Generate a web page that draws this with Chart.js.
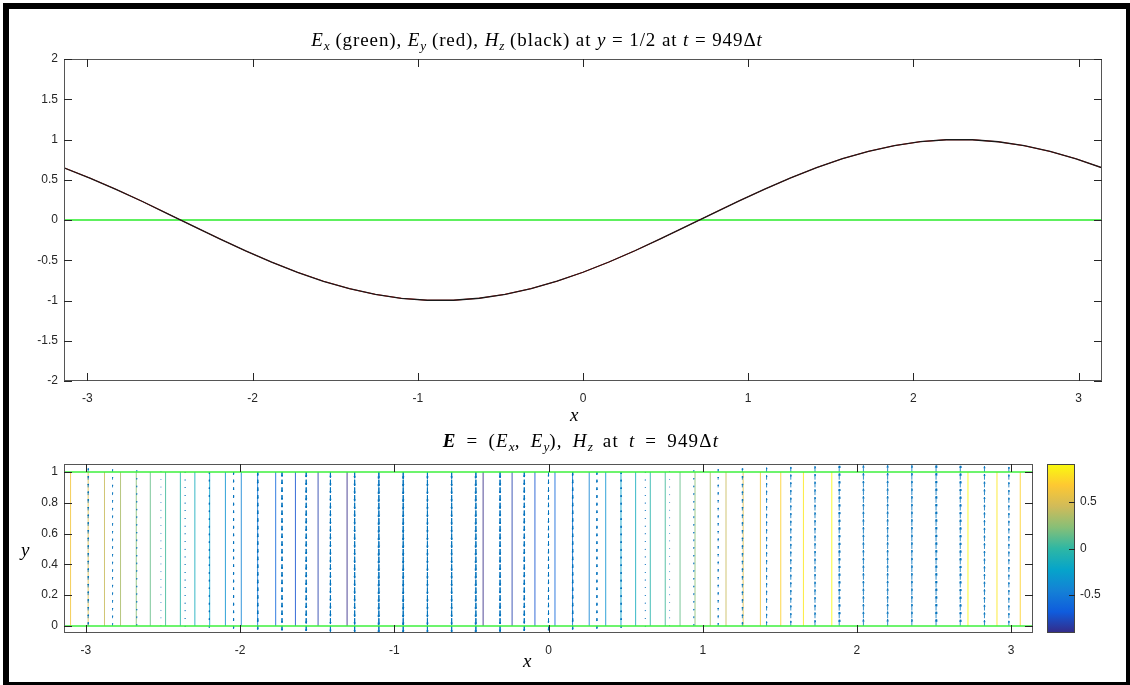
<!DOCTYPE html>
<html>
<head>
<meta charset="utf-8">
<script src="https://cdn.jsdelivr.net/npm/chart.js@4.4.1/dist/chart.umd.min.js"></script>
<style>
  html, body { margin: 0; padding: 0; background: #fff; overflow: hidden; }
  body { width: 1130px; height: 685px; position: relative; }
  #frame { position: absolute; left: 3px; top: 3px; width: 1129px; height: 685px; border: 6px solid #000; box-sizing: border-box; }
  canvas { position: absolute; }
  .tex { position: absolute; font-family: "Liberation Serif", "DejaVu Serif", serif; color: #000; white-space: nowrap; line-height: 20px; }
  .tex sub { font-size: 0.7em; vertical-align: -0.3em; line-height: 0; letter-spacing: 0; }
  .title { font-size: 19px; letter-spacing: 0.9px; transform: translateX(-50%); }
</style>
</head>
<body>
<div id="frame"></div>
<canvas id="chart_fields" width="1130" height="430" style="left:0;top:0"></canvas>
<canvas id="chart_quiver" width="1130" height="235" style="left:0;top:450px"></canvas>
<canvas id="chart_colorbar" width="90" height="235" style="left:1040px;top:450px"></canvas>

<div class="tex title" style="left:537px;top:30px">
  <i>E</i><sub><i>x</i></sub> (green), <i>E</i><sub><i>y</i></sub> (red), <i>H</i><sub><i>z</i></sub> (black) at <i>y</i> = 1/2 at <i>t</i> = 949Δ<i>t</i>
</div>
<div class="tex" style="left:570px;top:405px;font-size:19px"><i>x</i></div>
<div class="tex title" style="left:581px;top:431px;letter-spacing:1.2px;word-spacing:4px">
  <b><i>E</i></b> = (<i>E</i><sub><i>x</i></sub>, <i>E</i><sub><i>y</i></sub>), <i>H</i><sub><i>z</i></sub> at <i>t</i> = 949Δ<i>t</i>
</div>
<div class="tex" style="left:523px;top:651px;font-size:19px"><i>x</i></div>
<div class="tex" style="left:21px;top:540px;font-size:19px"><i>y</i></div>

<script>
// sample points along x (same grid is used for the arrows)
const xGrid = [-3.142, -2.985, -2.827, -2.670, -2.513, -2.356, -2.199, -2.042, -1.885, -1.728,
  -1.571, -1.414, -1.257, -1.100, -0.942, -0.785, -0.628, -0.471, -0.314, -0.157,
  0, 0.157, 0.314, 0.471, 0.628, 0.785, 0.942, 1.100, 1.257, 1.414,
  1.571, 1.728, 1.885, 2.042, 2.199, 2.356, 2.513, 2.670, 2.827, 2.985, 3.142];
const hzValues = [0.649, 0.521, 0.381, 0.233, 0.077, -0.080, -0.234, -0.384, -0.523, -0.650,
  -0.761, -0.853, -0.924, -0.973, -0.997, -0.997, -0.972, -0.923, -0.852, -0.760,
  -0.649, -0.522, -0.382, -0.232, -0.077, 0.080, 0.235, 0.383, 0.523, 0.651,
  0.762, 0.853, 0.924, 0.973, 0.997, 0.997, 0.972, 0.923, 0.852, 0.760, 0.648];
const eyValues = [0.649, 0.521, 0.381, 0.233, 0.077, -0.080, -0.234, -0.384, -0.523, -0.650,
  -0.761, -0.853, -0.924, -0.973, -0.997, -0.997, -0.972, -0.923, -0.852, -0.760,
  -0.649, -0.522, -0.382, -0.232, -0.077, 0.080, 0.235, 0.383, 0.523, 0.651,
  0.762, 0.853, 0.924, 0.973, 0.997, 0.997, 0.972, 0.923, 0.852, 0.760, 0.648];
const exValues = [0, 0, 0, 0, 0, 0, 0, 0, 0, 0, 0, 0, 0, 0, 0, 0, 0, 0, 0, 0,
  0, 0, 0, 0, 0, 0, 0, 0, 0, 0, 0, 0, 0, 0, 0, 0, 0, 0, 0, 0, 0];

// arrow rows in y
const yGrid = [0, 0.05, 0.1, 0.15, 0.2, 0.25, 0.3, 0.35, 0.4, 0.45, 0.5,
  0.55, 0.6, 0.65, 0.7, 0.75, 0.8, 0.85, 0.9, 0.95, 1];
const boundaryY = [0, 1];

// Hz contour lines (vertical): position and level
const contourX = [-3.099, -2.985, -2.879, -2.775, -2.673, -2.582, -2.483, -2.387, -2.293, -2.197,
  -2.095, -1.992, -1.886, -1.769, -1.641, -1.494, -1.306,
  -0.424, -0.236, -0.088, 0.042, 0.156, 0.264, 0.371, 0.470, 0.565, 0.660,
  0.757, 0.853, 0.950, 1.049, 1.151, 1.262, 1.374, 1.506, 1.653, 1.837,
  2.720, 2.908, 3.059];
const contourLevel = [0.619, 0.524, 0.429, 0.333, 0.238, 0.143, 0.048, -0.048, -0.143, -0.238,
  -0.333, -0.429, -0.524, -0.619, -0.714, -0.810, -0.905,
  -0.905, -0.810, -0.714, -0.619, -0.524, -0.429, -0.333, -0.238, -0.143, -0.048,
  0.048, 0.143, 0.238, 0.333, 0.429, 0.524, 0.619, 0.714, 0.810, 0.905,
  0.905, 0.810, 0.714];
const colorLimits = [-0.905, 0.905];

const xTicks = [-3, -2, -1, 0, 1, 2, 3];
const yTicksTop = [-2, -1.5, -1, -0.5, 0, 0.5, 1, 1.5, 2];
const yTicksBottom = [0, 0.2, 0.4, 0.6, 0.8, 1];
const colorTicks = [-0.5, 0, 0.5];

const arrowScale = 0.043;
const tickFont = { family: "'Liberation Sans', Arial, sans-serif", size: 12 };
const tickColor = "#262626";

const parulaStops = ["#352a87", "#0f5cdd", "#1481d6", "#06a4ca", "#2eb7a4",
  "#87bf77", "#d1bb59", "#fec832", "#f9fb0e"];

function hexToRgb(h) {
  return [parseInt(h.slice(1, 3), 16), parseInt(h.slice(3, 5), 16), parseInt(h.slice(5, 7), 16)];
}

function parula(v, alpha) {
  let t = (v - colorLimits[0]) / (colorLimits[1] - colorLimits[0]);
  t = Math.min(1, Math.max(0, t));
  const s = t * (parulaStops.length - 1);
  const i = Math.min(parulaStops.length - 2, Math.floor(s));
  const f = s - i;
  const a = hexToRgb(parulaStops[i]);
  const b = hexToRgb(parulaStops[i + 1]);
  const c = a.map((x, k) => Math.round(x + (b[k] - x) * f));
  return `rgba(${c[0]},${c[1]},${c[2]},${alpha})`;
}

// box round the plot area with inward ticks, like the original
const axesBox = {
  id: "axesBox",
  afterDatasetsDraw(chart, args, opts) {
    const { ctx, chartArea: a, scales } = chart;
    ctx.save();
    ctx.lineWidth = 1;
    ctx.strokeStyle = opts.boxColor;
    ctx.strokeRect(a.left + 0.5, a.top + 0.5, a.right - a.left - 1, a.bottom - a.top - 1);
    ctx.strokeStyle = opts.tickColor;
    ctx.beginPath();
    if (opts.xTicks) {
      scales.x.ticks.forEach((t) => {
        const px = Math.round(scales.x.getPixelForValue(t.value)) + 0.5;
        ctx.moveTo(px, a.bottom);
        ctx.lineTo(px, a.bottom - opts.len);
        ctx.moveTo(px, a.top);
        ctx.lineTo(px, a.top + opts.len);
      });
    }
    scales.y.ticks.forEach((t) => {
      const py = Math.round(scales.y.getPixelForValue(t.value)) + 0.5;
      if (opts.yLeft) {
        ctx.moveTo(a.left, py);
        ctx.lineTo(a.left + opts.len, py);
      }
      if (opts.yRight) {
        ctx.moveTo(a.right, py);
        ctx.lineTo(a.right - opts.len, py);
      }
    });
    ctx.stroke();
    ctx.restore();
  },
};

function axisOptions(ticks, min, max, pad, extra) {
  return Object.assign({
    type: "linear",
    min: min,
    max: max,
    grid: { display: false, drawTicks: false },
    border: { display: false },
    afterBuildTicks: (s) => { s.ticks = ticks.map((v) => ({ value: v })); },
    ticks: {
      font: tickFont,
      color: tickColor,
      padding: pad,
      autoSkip: false,
      maxRotation: 0,
      callback: (v) => String(v),
    },
  }, extra);
}

function quiverPoints() {
  const pts = [];
  xGrid.forEach((x, i) => {
    const u = exValues[i] * arrowScale;
    const v = eyValues[i] * arrowScale;
    yGrid.forEach((y) => {
      const tx = x + u;
      const ty = y + v;
      pts.push({ x: x, y: y }, { x: tx, y: ty }, { x: x, y: null });
      pts.push(
        { x: tx - 0.33 * (u + 0.33 * v), y: ty - 0.33 * (v - 0.33 * u) },
        { x: tx, y: ty },
        { x: tx - 0.33 * (u - 0.33 * v), y: ty - 0.33 * (v + 0.33 * u) },
        { x: x, y: null }
      );
    });
  });
  return pts;
}

function series(ys) {
  return xGrid.map((x, i) => ({ x: x, y: ys[i] }));
}

Chart.defaults.animation = false;

const chart_fields = new Chart(document.getElementById("chart_fields"), {
  type: "line",
  data: {
    datasets: [
      { label: "Hz", data: series(hzValues), borderColor: "#1a1a1a", borderWidth: 1.3 },
      { label: "Ey", data: series(eyValues), borderColor: "#ff0000", borderWidth: 1 },
      { label: "Ex", data: series(exValues), borderColor: "rgb(40,235,40)", borderWidth: 1.5 },
    ],
  },
  options: {
    responsive: false,
    devicePixelRatio: 1,
    layout: { padding: { left: 0, top: 59, right: 28, bottom: 0 } },
    elements: { point: { radius: 0 }, line: { tension: 0 } },
    scales: {
      x: axisOptions(xTicks, -Math.PI, Math.PI, 10, {
        afterFit: (s) => { s.height = 49; },
      }),
      y: axisOptions(yTicksTop, -2, 2, 6, {
        afterFit: (s) => { s.width = 64; },
      }),
    },
    plugins: {
      legend: { display: false },
      tooltip: { enabled: false },
      axesBox: { boxColor: "#555", tickColor: "#262626", len: 8, xTicks: true, yLeft: true, yRight: true },
    },
  },
  plugins: [axesBox],
});

const quiverDatasets = [
  { label: "y0", data: [{ x: -Math.PI, y: boundaryY[0] }, { x: Math.PI, y: boundaryY[0] }], borderColor: "rgb(60,240,60)", borderWidth: 1.5 },
  { label: "y1", data: [{ x: -Math.PI, y: boundaryY[1] }, { x: Math.PI, y: boundaryY[1] }], borderColor: "rgb(60,240,60)", borderWidth: 1.5 },
  { label: "E", data: quiverPoints(), borderColor: "rgba(0,114,189,0.8)", borderWidth: 1 },
];
contourX.forEach((x, i) => {
  quiverDatasets.push({
    label: "Hz " + contourLevel[i],
    data: [{ x: x, y: 0 }, { x: x, y: 1 }],
    borderColor: parula(contourLevel[i], 0.85),
    borderWidth: 1,
  });
});

const chart_quiver = new Chart(document.getElementById("chart_quiver"), {
  type: "line",
  data: { datasets: quiverDatasets },
  options: {
    responsive: false,
    devicePixelRatio: 1,
    layout: { padding: { left: 0, top: 14, right: 97, bottom: 0 } },
    elements: { point: { radius: 0 }, line: { tension: 0 } },
    scales: {
      x: axisOptions(xTicks, -Math.PI, Math.PI, 10, {
        afterFit: (s) => { s.height = 52; },
      }),
      y: axisOptions(yTicksBottom, -0.046, 1.052, 6, {
        afterFit: (s) => { s.width = 64; },
      }),
    },
    plugins: {
      legend: { display: false },
      tooltip: { enabled: false },
      axesBox: { boxColor: "#555", tickColor: "#262626", len: 8, xTicks: true, yLeft: true, yRight: true },
    },
  },
  plugins: [axesBox],
});

function colorbarGradient(context) {
  const area = context.chart.chartArea;
  if (!area) return parulaStops[4];
  const g = context.chart.ctx.createLinearGradient(0, area.bottom, 0, area.top);
  parulaStops.forEach((c, i) => g.addColorStop(i / (parulaStops.length - 1), c));
  return g;
}

const chart_colorbar = new Chart(document.getElementById("chart_colorbar"), {
  type: "bar",
  data: {
    labels: ["Hz"],
    datasets: [{
      data: [colorLimits],
      backgroundColor: colorbarGradient,
      borderWidth: 0,
      barPercentage: 1,
      categoryPercentage: 1,
    }],
  },
  options: {
    responsive: false,
    devicePixelRatio: 1,
    layout: { padding: { left: 7, top: 14, right: 0, bottom: 52 } },
    scales: {
      x: { display: false },
      y: axisOptions(colorTicks, colorLimits[0], colorLimits[1], 5, {
        position: "right",
        afterFit: (s) => { s.width = 55; },
      }),
    },
    plugins: {
      legend: { display: false },
      tooltip: { enabled: false },
      axesBox: { boxColor: "#444", tickColor: "#262626", len: 6, xTicks: false, yLeft: false, yRight: true },
    },
  },
  plugins: [axesBox],
});
</script>
</body>
</html>
